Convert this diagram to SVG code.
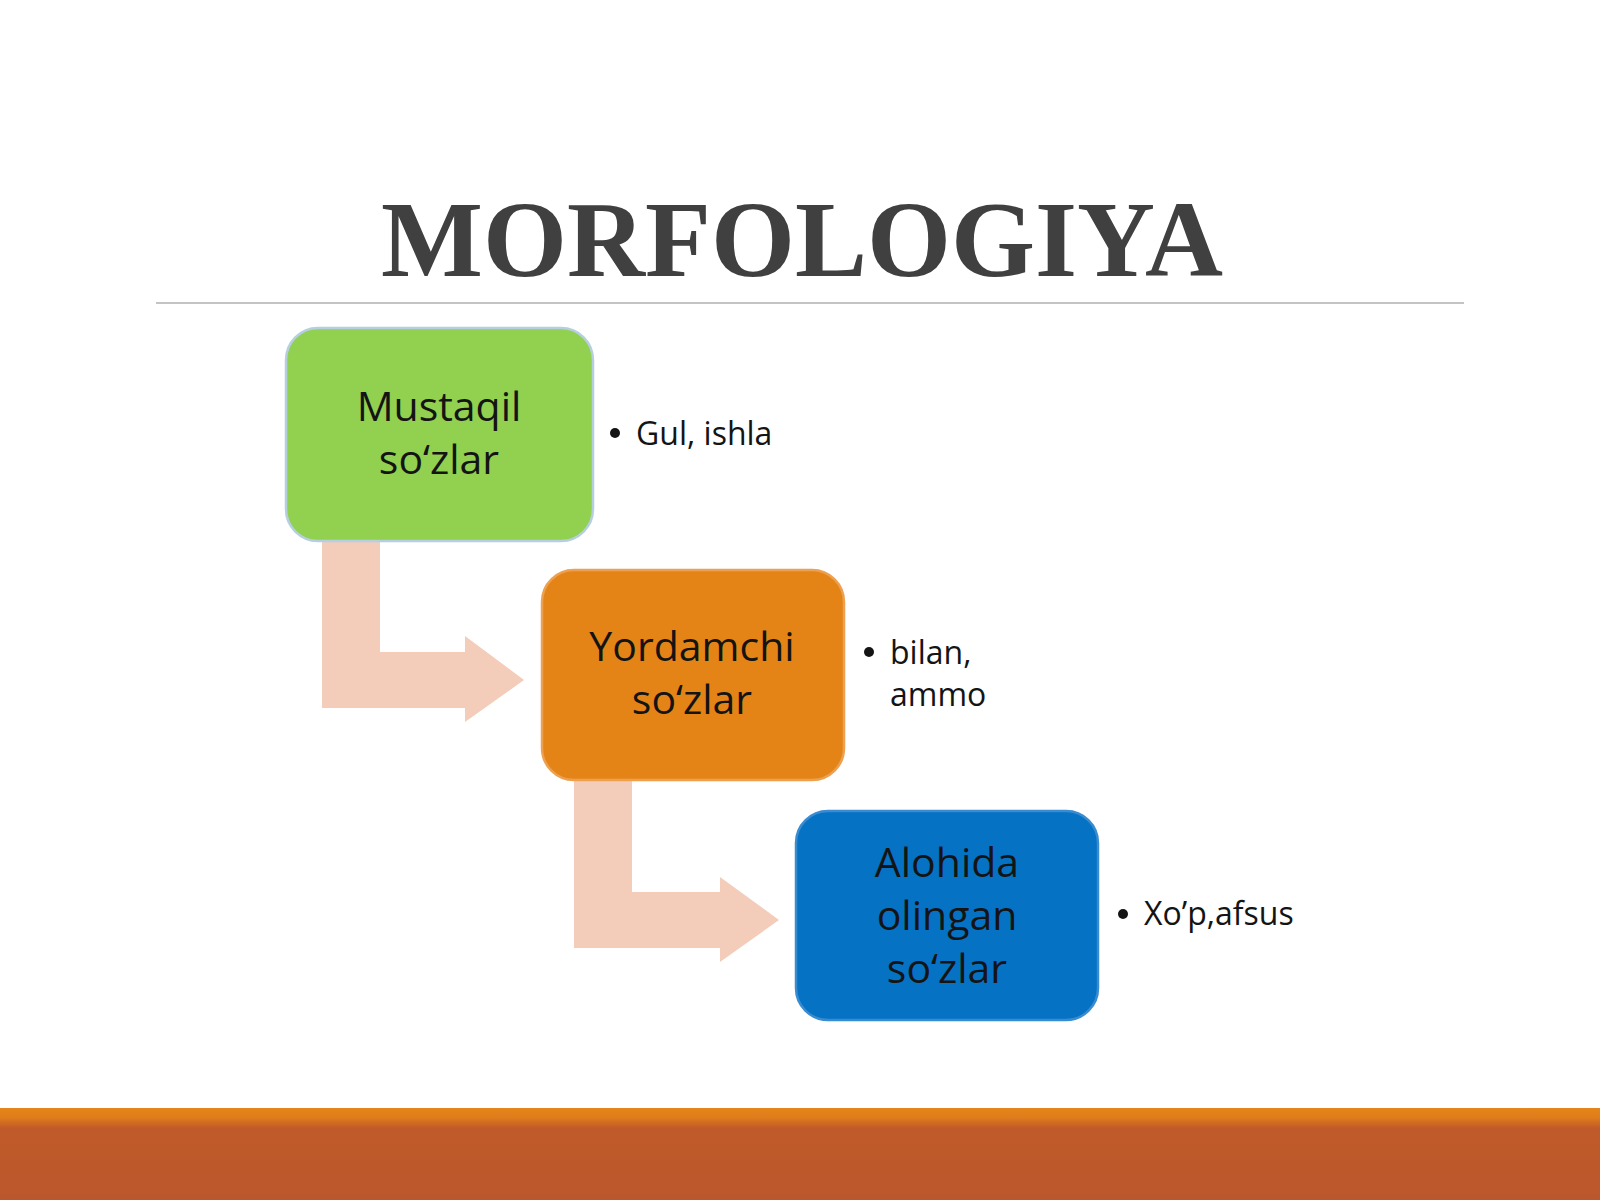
<svg xmlns="http://www.w3.org/2000/svg" width="1600" height="1200" viewBox="0 0 1600 1200">
  <defs>
    <linearGradient id="barGrad" x1="0" y1="0" x2="0" y2="1">
      <stop offset="0" stop-color="#e4861a"/>
      <stop offset="0.1" stop-color="#e07d1c"/>
      <stop offset="0.22" stop-color="#c05a2a"/>
      <stop offset="1" stop-color="#bb572c"/>
    </linearGradient>
  </defs>
  <style>
    .title { font-family: "Liberation Serif", serif; font-weight: bold; font-size: 108px; fill: #404040; }
    .node-text { font-family: "Open Sans", "Liberation Sans", sans-serif; font-size: 41px; fill: #141414; text-anchor: middle; }
    .bullet-text { font-family: "Open Sans", "Liberation Sans", sans-serif; font-size: 32px; fill: #141414; }
    .arrow { fill: #f4ccba; }
    .box { stroke-width: 2.5; }
  </style>
  <rect x="0" y="0" width="1600" height="1200" fill="#ffffff"/>

  <g id="title">
    <text class="title" x="802" y="276" text-anchor="middle">MORFOLOGIYA</text>
    <line x1="156" y1="303" x2="1464" y2="303" stroke="#c4c4c4" stroke-width="2"/>
  </g>

  <g id="connectors">
    <path class="arrow" d="M322,535 L380,535 L380,652 L465,652 L465,636 L524,680 L465,722 L465,708 L322,708 Z"/>
    <path class="arrow" d="M574,775 L632,775 L632,892 L720,892 L720,877 L779,920 L720,962 L720,948 L574,948 Z"/>
  </g>

  <g id="node-mustaqil">
    <rect class="box" x="286" y="328" width="307" height="213" rx="32" fill="#92d050" stroke="#b5cfe0"/>
    <text class="node-text" x="439" y="421">Mustaqil</text>
    <text class="node-text" x="439" y="474">so‘zlar</text>
  </g>
  <g id="bullet-mustaqil">
    <circle cx="615" cy="433" r="5" fill="#141414"/>
    <text class="bullet-text" x="636" y="445">Gul, ishla</text>
  </g>

  <g id="node-yordamchi">
    <rect class="box" x="542" y="570" width="302" height="210" rx="32" fill="#e48417" stroke="#eca050"/>
    <text class="node-text" x="692" y="661">Yordamchi</text>
    <text class="node-text" x="692" y="714">so‘zlar</text>
  </g>
  <g id="bullet-yordamchi">
    <circle cx="869" cy="652" r="5" fill="#141414"/>
    <text class="bullet-text" x="890" y="664">bilan,</text>
    <text class="bullet-text" x="890" y="706">ammo</text>
  </g>

  <g id="node-alohida">
    <rect class="box" x="796" y="811" width="302" height="209" rx="32" fill="#0572c4" stroke="#3a8cd0"/>
    <text class="node-text" x="947" y="877">Alohida</text>
    <text class="node-text" x="947" y="930">olingan</text>
    <text class="node-text" x="947" y="983">so‘zlar</text>
  </g>
  <g id="bullet-alohida">
    <circle cx="1123" cy="914" r="5" fill="#141414"/>
    <text class="bullet-text" x="1144" y="925">Xo’p,afsus</text>
  </g>

  <g id="footer">
    <rect x="0" y="1108" width="1600" height="92" fill="url(#barGrad)"/>
  </g>
</svg>
